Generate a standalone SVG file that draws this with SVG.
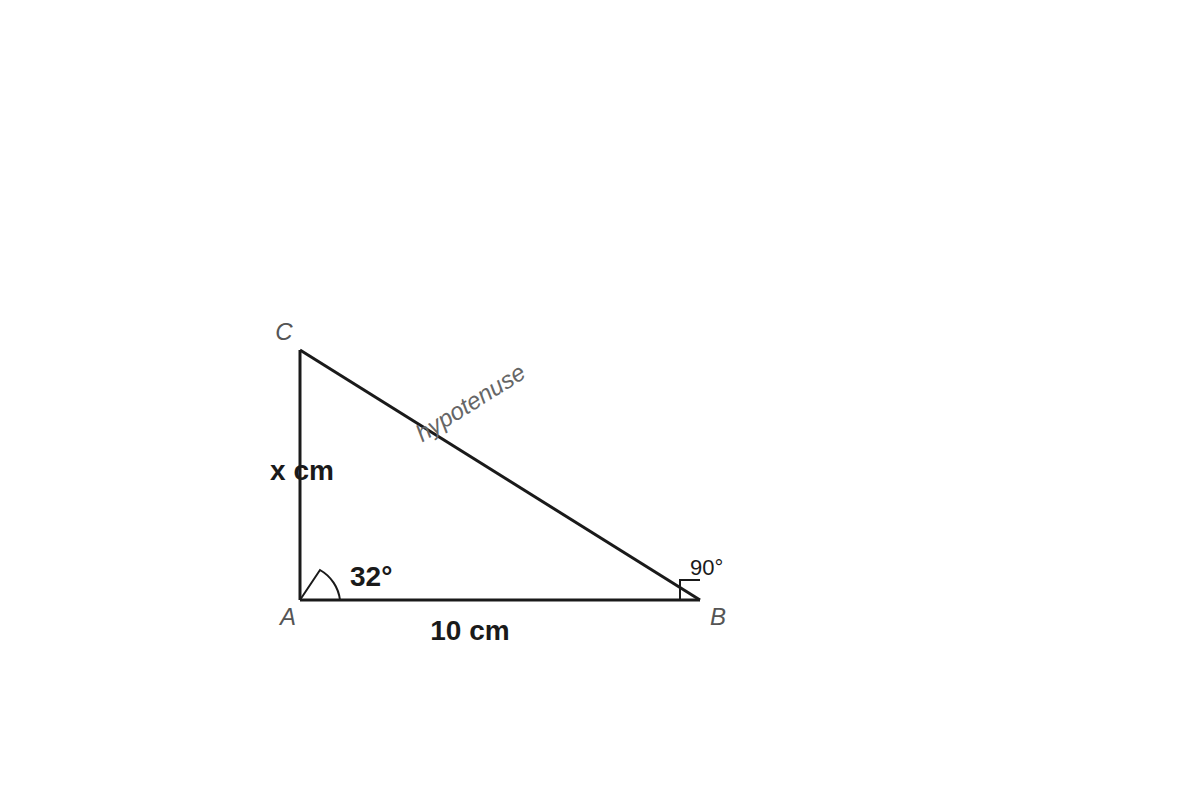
<svg xmlns="http://www.w3.org/2000/svg" width="1200" height="800" viewBox="0 0 1200 800">
<style>
.edge{fill:none;stroke:#1a1a1a;stroke-width:3;stroke-linejoin:miter}
.thin{fill:none;stroke:#1a1a1a;stroke-width:2}
.vlabel{font-family:"Liberation Sans",Arial,sans-serif;font-style:italic;font-size:24px;fill:#555}
.bold{font-family:"Liberation Sans",Arial,sans-serif;font-weight:bold;font-size:28px;fill:#1a1a1a}
.reg{font-family:"Liberation Sans",Arial,sans-serif;font-size:22px;fill:#1a1a1a}
.hyp{font-family:"Liberation Sans",Arial,sans-serif;font-style:italic;font-size:24px;fill:#666}
</style>
<rect width="1200" height="800" fill="#fff"/>
<g id="connectors">
<path class="edge" d="M300,600 L700,600"/>
<path class="edge" d="M300,600 L300,350"/>
<path class="edge" d="M300,350 L700,600"/>
</g>
<g id="angle-A">
<path class="thin" d="M300,600 L320,570 A40,40 0 0 1 340,600"/>
<text class="bold" x="350" y="586">32°</text>
</g>
<g id="angle-B">
<path class="thin" d="M680,600 L680,580 L700,580"/>
<text class="reg" x="690" y="575">90°</text>
</g>
<g id="node-A"><text class="vlabel" x="288" y="625" text-anchor="middle">A</text></g>
<g id="node-B"><text class="vlabel" x="718" y="625" text-anchor="middle">B</text></g>
<g id="node-C"><text class="vlabel" x="284" y="340" text-anchor="middle">C</text></g>
<g id="side-labels">
<text class="bold" x="302" y="480" text-anchor="middle">x cm</text>
<text class="bold" x="470" y="640" text-anchor="middle">10 cm</text>
<text class="hyp" x="470" y="411" text-anchor="middle" transform="rotate(-32 470 402)">hypotenuse</text>
</g>
</svg>
